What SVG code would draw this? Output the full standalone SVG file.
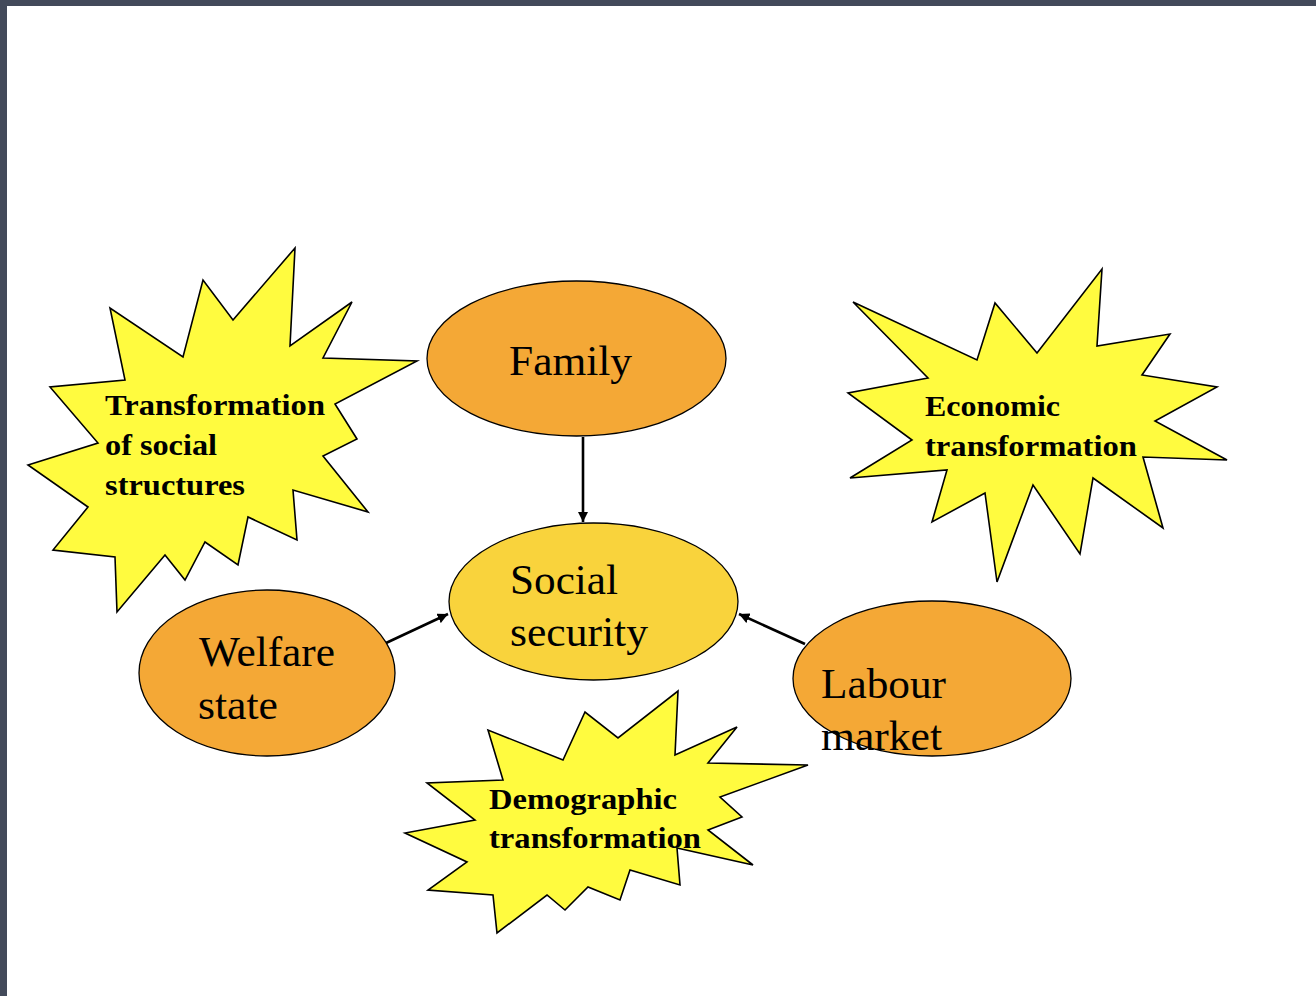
<svg xmlns="http://www.w3.org/2000/svg" width="1316" height="996" viewBox="0 0 1316 996">
<defs>
<style>
.star{fill:#FFFB3F;stroke:#000;stroke-width:1.6;stroke-linejoin:miter}
.ell{stroke:#000;stroke-width:1.3}
.orange{fill:#F4A836}
.yellow{fill:#F9D33C}
.big{font-family:"Liberation Serif",serif;font-size:43px;fill:#000}
.bold{font-family:"Liberation Serif",serif;font-size:29px;font-weight:bold;fill:#000}
.conn{stroke:#000;stroke-width:2.6;fill:none}
</style>
<marker id="ah" viewBox="0 0 10 10" refX="10" refY="5" markerWidth="4" markerHeight="4" orient="auto" markerUnits="strokeWidth">
<path d="M0,0 L10,5 L0,10 z" fill="#000"/>
</marker>
</defs>
<rect x="0" y="0" width="1316" height="996" fill="#fff"/>
<rect x="0" y="0" width="1316" height="6" fill="#434a5a"/>
<rect x="0" y="0" width="7" height="996" fill="#434a5a"/>

<g id="star-social-structures">
<polygon class="star" points="295,248 290,346 352,302 323,358 417,361 335,404 357,439 323,456 368,512 293,490 297,540 248,517 238,565 205,542 185,580 165,555 117,612 115,557 53,550 88,507 28,465 98,443 50,387 125,380 110,308 183,357 203,280 233,320"/>
<text class="bold" x="105" y="415" textLength="220" lengthAdjust="spacingAndGlyphs">Transformation</text>
<text class="bold" x="105" y="455" textLength="112" lengthAdjust="spacingAndGlyphs">of social</text>
<text class="bold" x="105" y="495" textLength="140" lengthAdjust="spacingAndGlyphs">structures</text>
</g>

<g id="star-economic">
<polygon class="star" points="1102,269 1097,346 1170,334 1142,375 1217,387 1155,421 1227,460 1143,457 1163,528 1093,478 1080,554 1033,485 997,582 985,493 932,522 947,470 850,478 912,440 848,393 928,378 853,302 977,360 995,303 1037,353"/>
<text class="bold" x="925" y="416" textLength="135" lengthAdjust="spacingAndGlyphs">Economic</text>
<text class="bold" x="925" y="456" textLength="212" lengthAdjust="spacingAndGlyphs">transformation</text>
</g>

<g id="star-demographic">
<polygon class="star" points="678,691 675,755 737,727 708,763 808,765 720,797 742,817 708,830 753,865 677,848 680,885 630,870 620,900 588,887 565,910 547,895 497,933 493,895 428,890 467,862 405,833 475,820 427,783 503,780 488,730 563,760 585,712 618,738"/>
<text class="bold" x="489" y="809" textLength="188" lengthAdjust="spacingAndGlyphs">Demographic</text>
<text class="bold" x="489" y="848" textLength="212" lengthAdjust="spacingAndGlyphs">transformation</text>
</g>

<g id="connectors">
<line class="conn" x1="583" y1="437" x2="583" y2="522" marker-end="url(#ah)"/>
<line class="conn" x1="386" y1="643" x2="448" y2="614" marker-end="url(#ah)"/>
<line class="conn" x1="805" y1="644" x2="739" y2="614" marker-end="url(#ah)"/>
</g>

<g id="family">
<ellipse class="ell orange" cx="576.5" cy="358.5" rx="149.5" ry="77.5"/>
<text class="big" x="509" y="375" textLength="123" lengthAdjust="spacingAndGlyphs">Family</text>
</g>

<g id="social-security">
<ellipse class="ell yellow" cx="593.5" cy="601.5" rx="144.5" ry="78.5"/>
<text class="big" x="510" y="594" textLength="108" lengthAdjust="spacingAndGlyphs">Social</text>
<text class="big" x="510" y="646" textLength="138" lengthAdjust="spacingAndGlyphs">security</text>
</g>

<g id="welfare-state">
<ellipse class="ell orange" cx="267" cy="673" rx="128" ry="83"/>
<text class="big" x="199" y="666" textLength="136" lengthAdjust="spacingAndGlyphs">Welfare</text>
<text class="big" x="198" y="719" textLength="80" lengthAdjust="spacingAndGlyphs">state</text>
</g>

<g id="labour-market">
<ellipse class="ell orange" cx="932" cy="678.5" rx="139" ry="77.5"/>
<text class="big" x="821" y="698" textLength="125" lengthAdjust="spacingAndGlyphs">Labour</text>
<text class="big" x="821" y="750" textLength="121" lengthAdjust="spacingAndGlyphs">market</text>
</g>
</svg>
